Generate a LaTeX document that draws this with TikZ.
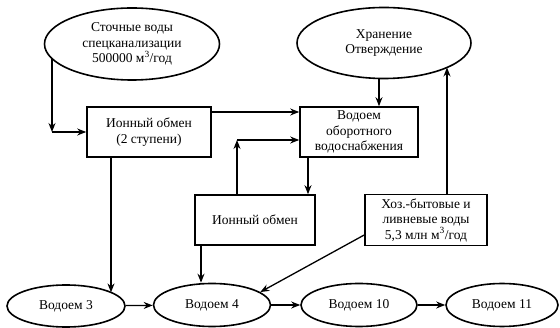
\documentclass[tikz,border=0pt]{standalone}
\usepackage{fontspec}
\setmainfont{Liberation Serif}
\usetikzlibrary{shapes.geometric,arrows.meta}
\begin{document}
\begin{tikzpicture}[x=1pt,y=-1pt,
  every node/.style={font=\fontsize{13.5}{15.5}\selectfont, align=center, inner sep=0pt},
  boxnode/.style={draw, line width=1.6pt, rectangle},
  ellnode/.style={draw, line width=1.6pt, ellipse},
  arr/.style={line width=1.3pt, -{Stealth[length=9pt,width=7pt]}}]
\useasboundingbox (0,0) rectangle (560,328);
\node[ellnode, minimum width=175pt, minimum height=72pt] (src) at (132,44) {Сточные воды\\спецканализации\\500000 м\textsuperscript{3}/год};
\node[boxnode, minimum width=124pt, minimum height=50pt] (ion2) at (149,132) {Ионный обмен\\(2 ступени)};
\node[boxnode, minimum width=118pt, minimum height=50pt] (res) at (359,132) {Водоем\\оборотного\\водоснабжения};
\node[ellnode, minimum width=174pt, minimum height=71pt] (stor) at (384,43) {Хранение\\Отверждение};
\node[boxnode, minimum width=120pt, minimum height=50pt] (ion) at (255,220) {Ионный обмен};
\node[boxnode, minimum width=122pt, minimum height=51pt] (hoz) at (426,220) {Хоз.-бытовые и\\ливневые воды\\5,3 млн м\textsuperscript{3}/год};
\node[ellnode, minimum width=118pt, minimum height=42pt] (w3) at (66,306) {Водоем 3};
\node[ellnode, minimum width=117pt, minimum height=43pt] (w4) at (212,305) {Водоем 4};
\node[ellnode, minimum width=116pt, minimum height=43pt] (w10) at (359,305) {Водоем 10};
\node[ellnode, minimum width=112pt, minimum height=43pt] (w11) at (502,305) {Водоем 11};
% coordinates
\path (src.center) ++(-80,14.6) coordinate (s1);
\coordinate (c1) at (52,132);
\coordinate (c2) at (237,140);
\path (stor.center) ++(63,24.5) coordinate (s2);
\path (w3.center) ++(45,-13.6) coordinate (t3);
% connectors
\draw[arr] (s1) -- (c1);
\draw[arr] (c1) -- (ion2.west);
\draw[arr] ([yshift=20pt]ion2.east) -- ([yshift=20pt]res.west);
\draw[arr] ([xshift=-18pt]ion.north) -- (c2);
\draw[arr] (c2) -- (res.west |- c2);
\draw[arr] ([xshift=-51pt]res.south) -- ([xshift=53pt]ion.north);
\draw[arr] ([xshift=-5pt]stor.south) -- ([xshift=20pt]res.north);
\draw[arr] ([xshift=21pt]hoz.north) -- (s2);
\draw[arr] ([xshift=-38pt]ion2.south) -- (t3);
\draw[arr] ([xshift=-54pt]ion.south) -- ([xshift=-11pt]w4.north);
\draw[arr] ([yshift=-15pt]hoz.west) -- (w4.15);
\draw[arr] (w3) -- (w4);
\draw[arr] (w4) -- (w10);
\draw[arr] (w10) -- (w11);
\end{tikzpicture}
\end{document}
